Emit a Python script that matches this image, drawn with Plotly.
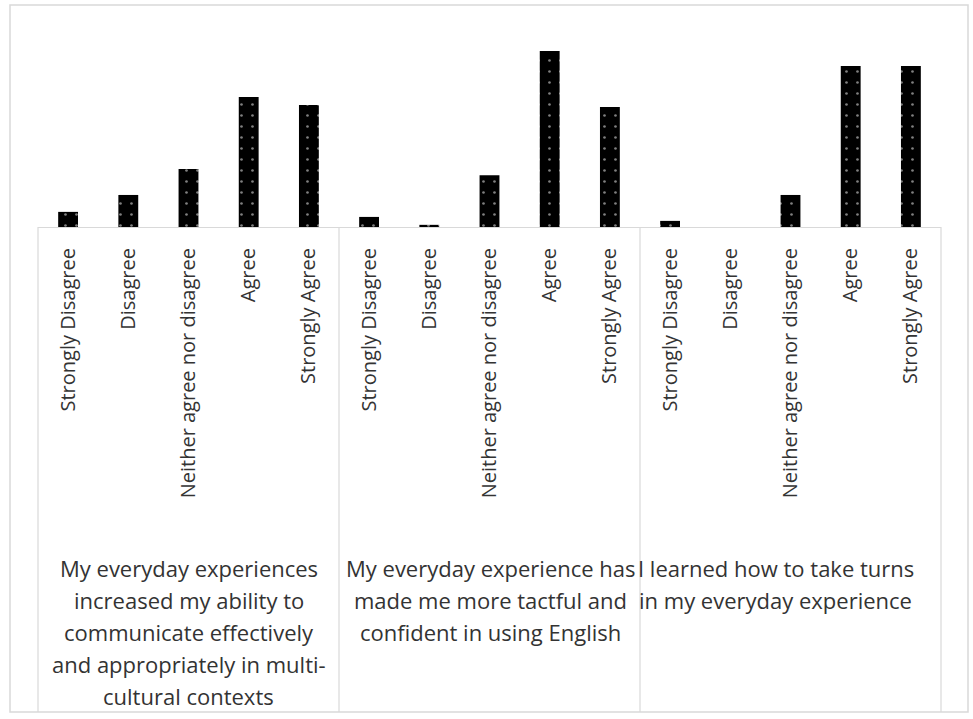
import plotly.graph_objects as go

# ---- data ----
responses = ["Strongly Disagree", "Disagree", "Neither agree nor disagree", "Agree", "Strongly Agree"]
group_lines = [
    ["My everyday experiences", "increased my ability to", "communicate effectively",
     "and appropriately in multi-", "cultural contexts"],
    ["My everyday experience has", "made me more tactful and", "confident in using English"],
    ["I learned how to take turns", "in my everyday experience"],
]
g1_values = [4.2, 8.9, 16.1, 36.1, 33.9]
g2_values = [2.8, 0.6, 14.4, 48.9, 33.3]
g3_values = [1.7, 0.0, 8.9, 44.7, 44.7]

values = g1_values + g2_values + g3_values
tick_labels = responses * 3
xpos = list(range(len(values)))

# ---- layout geometry (pixels) ----
W, H = 973, 719
L, R, T, B = 38, 32, 11, 492
PW = W - L - R
PH = H - T - B


def px_x(p):
    return (p - L) / PW


def px_y(p):
    return (H - B - p) / PH


FONT = "Open Sans"
TXT = "#333333"
GRID = "#d9d9d9"

fig = go.Figure()
fig.add_trace(go.Bar(
    x=xpos, y=values, width=0.33,
    marker=dict(color="black",
                line=dict(width=0),
                pattern=dict(shape=".", bgcolor="black", fgcolor="white",
                             size=11, solidity=0.045)),
    showlegend=False, hoverinfo="y",
))

shapes = []
# outer chart border
shapes.append(dict(type="rect", xref="paper", yref="paper",
                   x0=px_x(10), x1=px_x(968), y0=px_y(712), y1=px_y(5),
                   line=dict(color=GRID, width=1.5), layer="below"))
# group dividers
ngroups = len(group_lines)
for i in range(ngroups + 1):
    shapes.append(dict(type="line", xref="paper", yref="paper",
                       x0=i / ngroups, x1=i / ngroups, y0=0, y1=px_y(712),
                       line=dict(color=GRID, width=1.2)))

annotations = []
line_y0 = 568
line_step = 32
xshifts = [0, 1, -15]
for gi, lines in enumerate(group_lines):
    cx = gi * 5 + 2
    for li, txt in enumerate(lines):
        annotations.append(dict(
            x=cx, xref="x", y=px_y(line_y0 + li * line_step), yref="paper",
            text=txt, showarrow=False, xanchor="center", yanchor="middle",
            xshift=xshifts[gi],
            font=dict(family=FONT, size=22, color=TXT)))

fig.update_layout(
    width=W, height=H,
    margin=dict(l=L, r=R, t=T, b=B),
    paper_bgcolor="white", plot_bgcolor="white",
    shapes=shapes, annotations=annotations,
    xaxis=dict(range=[-0.5, len(values) - 0.5], tickmode="array",
               tickvals=xpos, ticktext=tick_labels, tickangle=-90,
               showline=True, linecolor=GRID, linewidth=1.2,
               showgrid=False, zeroline=False, ticks="",
               ticklabelstandoff=12,
               tickfont=dict(family=FONT, size=20, color=TXT)),
    yaxis=dict(range=[0, 60], visible=False, showgrid=False, zeroline=False),
)

fig.write_html("out.html")
